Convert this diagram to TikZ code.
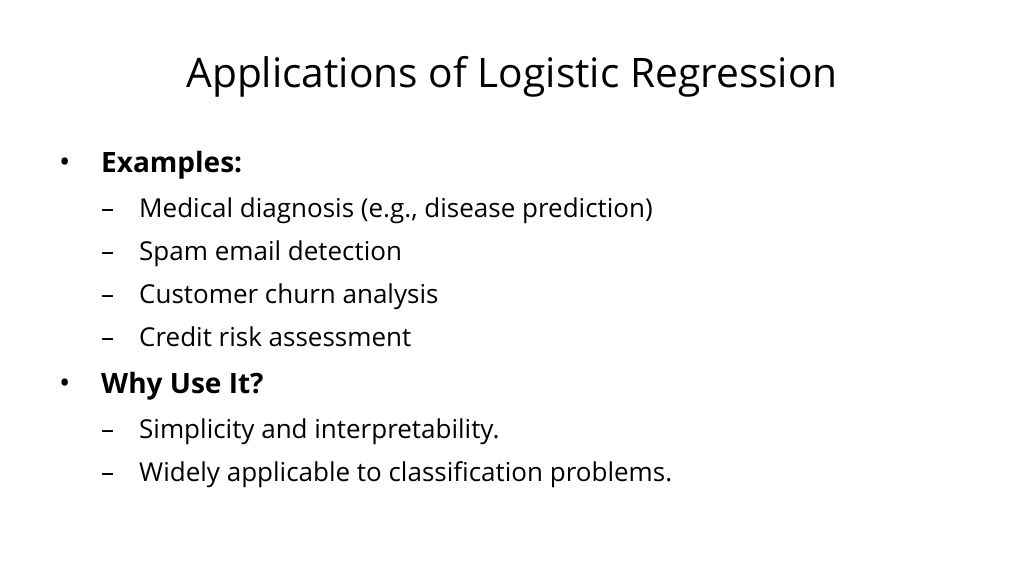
\documentclass[tikz,border=0pt]{standalone}
\usepackage{fontspec}
\setmainfont{Open Sans}
\begin{document}
\begin{tikzpicture}[x=1pt,y=-1pt,
  title/.style={font=\fontsize{40.7}{46}\selectfont,anchor=base},
  lvone/.style={font=\fontsize{28}{32}\selectfont\bfseries,anchor=base west,inner sep=0pt},
  lvtwo/.style={font=\fontsize{26}{30}\selectfont,anchor=base west,inner sep=0pt},
  bul/.style={font=\fontsize{30}{34}\selectfont,anchor=base west,inner sep=0pt},
  dsh/.style={font=\fontsize{26}{30}\selectfont,anchor=base west,inner sep=0pt}]
\useasboundingbox (0,0) rectangle (1024,576);
\node[title] (t) at (512,87) {Applications of Logistic Regression};
\node[bul] (b1) at (59,172) {•};
\node[lvone] (e) at (101,172) {Examples:};
\node[dsh] (d1) at (101,217) {–};
\node[lvtwo] (s1) at (139,217) {Medical diagnosis (e.g., disease prediction)};
\node[dsh] (d2) at (101,260) {–};
\node[lvtwo] (s2) at (139,260) {Spam email detection};
\node[dsh] (d3) at (101,303) {–};
\node[lvtwo] (s3) at (139,303) {Customer churn analysis};
\node[dsh] (d4) at (101,346) {–};
\node[lvtwo] (s4) at (139,346) {Credit risk assessment};
\node[bul] (b2) at (59,393) {•};
\node[lvone] (w) at (101,393) {Why Use It?};
\node[dsh] (d5) at (101,438) {–};
\node[lvtwo] (s5) at (139,438) {Simplicity and interpretability.};
\node[dsh] (d6) at (101,481) {–};
\node[lvtwo] (s6) at (139,481) {Widely applicable to classification problems.};
\end{tikzpicture}
\end{document}
